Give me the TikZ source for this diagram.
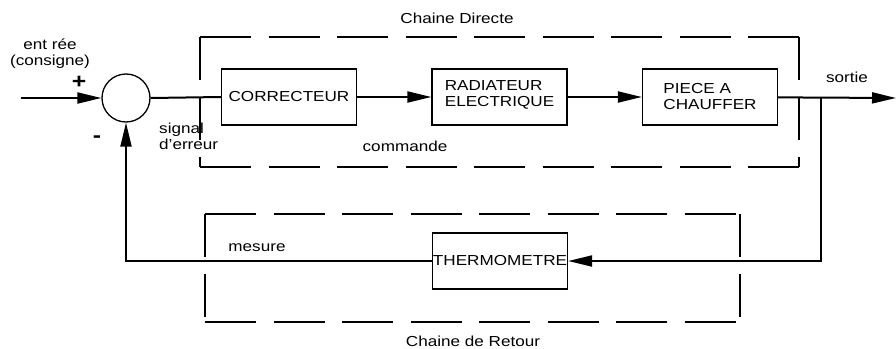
\documentclass[tikz,border=0pt]{standalone}
\usepackage{fontspec}
\setmainfont{Liberation Sans}[FakeStretch=1.18]
\usetikzlibrary{arrows.meta,positioning}
\newcommand\blocfont{\fontsize{14.5}{16}\selectfont}
\tikzset{
  >={Triangle[length=24pt,width=11pt]},
  bloc/.style={draw,line width=1.3pt,minimum width=135pt,minimum height=56pt,
    inner sep=2pt,align=left,font=\blocfont},
  sommateur/.style={circle,draw,line width=1.3pt,minimum size=48pt,inner sep=0pt},
  lien/.style={line width=2pt},
  chaine/.style={line width=1.5pt,dash pattern=on 51pt off 17.5pt},
  chaine v/.style={line width=1.5pt,dash pattern=on 43pt off 17pt},
  etiq/.style={font=\blocfont,inner sep=0pt},
  signe/.style={font=\fontsize{21}{21}\selectfont\bfseries,inner sep=0pt},
}

\begin{document}
\begin{tikzpicture}[x=1pt,y=-1pt]
  \useasboundingbox (0,0) rectangle (896,348);
  % chaine directe / chaine de retour
  \draw[chaine] (200,37) -- (799,37) (200,167) -- (799,167);
  \draw[chaine v] (200,37) -- (200,167) (799,37) -- (799,167);
  \draw[chaine] (205,214) -- (740,214) (205,322) -- (740,322);
  \draw[chaine v] (205,214) -- (205,322) (740,214) -- (740,322);
  \node[etiq] (directe) at (457,18) {Chaine Directe};
  \node[etiq] (retourlbl) at (473,341) {Chaine de Retour};
  % blocs
  \node[sommateur] (som) at (126,98) {};
  \node[bloc] (cor) at (289,97) {CORRECTEUR};
  \node[bloc] (rad) at (499.5,97) {RADIATEUR\\ELECTRIQUE\vphantom{g}\\[-9pt]};
  \node[bloc] (piece) at (710,97) {PIECE A\\CHAUFFER};
  \node[bloc,inner sep=0pt] (thermo) at (500,261) {THERMOMETRE};
  \coordinate (entree) at (21,98);
  \coordinate (sortie) at (896,98);
  \coordinate (derivation) at (821,98);
  % liaisons
  \draw[lien,->] (entree) -- (som.west);
  \draw[lien] (som.east) -- (cor.west);
  \draw[lien,->] (cor) -- (rad);
  \draw[lien,->] (rad) -- (piece);
  \draw[lien,->] (piece) -- (sortie);
  \draw[lien,->] (derivation) |- (thermo);
  \draw[lien,->] (thermo) -| (som);
  % etiquettes
  \node[etiq,align=center] (consigne) at (50,54) {ent rée\\(consigne)};
  \node[signe] (plus) at (79,82) {+};
  \node[signe] (moins) at (97,139) {-};
  \node[etiq,align=left,anchor=west] (erreur) at (159,136) {signal\\d'erreur};
  \node[etiq] (commande) at (405,146) {commande};
  \node[etiq] (sortielbl) at (847,77) {sortie};
  \node[etiq] (mesure) at (257,248) {mesure};
\end{tikzpicture}
\end{document}
